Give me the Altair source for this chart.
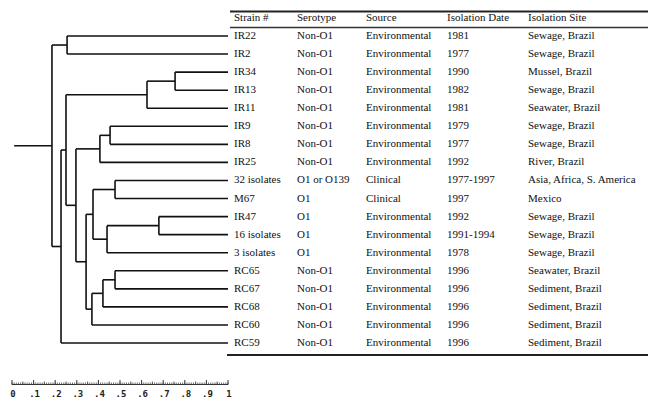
import altair as alt
import pandas as pd

# ---------------- data ----------------
strains = ["IR22", "IR2", "IR34", "IR13", "IR11", "IR9", "IR8", "IR25",
           "32 isolates", "M67", "IR47", "16 isolates", "3 isolates",
           "RC65", "RC67", "RC68", "RC60", "RC59"]
serotypes = ["Non-O1", "Non-O1", "Non-O1", "Non-O1", "Non-O1", "Non-O1", "Non-O1", "Non-O1",
             "O1 or O139", "O1", "O1", "O1", "O1",
             "Non-O1", "Non-O1", "Non-O1", "Non-O1", "Non-O1"]
sources = ["Environmental"] * 8 + ["Clinical", "Clinical"] + ["Environmental"] * 8
dates = ["1981", "1977", "1990", "1982", "1981", "1979", "1977", "1992",
         "1977-1997", "1997", "1992", "1991-1994", "1978",
         "1996", "1996", "1996", "1996", "1996"]
sites = ["Sewage, Brazil", "Sewage, Brazil", "Mussel, Brazil", "Sewage, Brazil",
         "Seawater, Brazil", "Sewage, Brazil", "Sewage, Brazil", "River, Brazil",
         "Asia, Africa, S. America", "Mexico", "Sewage, Brazil", "Sewage, Brazil",
         "Sewage, Brazil", "Seawater, Brazil", "Sediment, Brazil", "Sediment, Brazil",
         "Sediment, Brazil", "Sediment, Brazil"]
headers = ["Strain #", "Serotype", "Source", "Isolation Date", "Isolation Site"]

# dendrogram merges (linkage style): id, left child, right child, similarity
merge_id = ["A", "B1", "B", "C1", "C", "D1", "D2", "D3", "D",
            "R1", "R2", "R", "E", "F", "G", "H", "root"]
merge_left = ["IR22", "IR34", "B1", "IR9", "C1", "32 isolates", "IR47", "D2", "D1",
              "RC65", "R1", "R2", "D", "C", "B", "G", "A"]
merge_right = ["IR2", "IR13", "IR11", "IR8", "IR25", "M67", "16 isolates", "3 isolates", "D3",
               "RC67", "RC68", "RC60", "R", "E", "F", "RC59", "H"]
merge_height = [0.255, 0.755, 0.625, 0.454, 0.407, 0.477, 0.680, 0.440, 0.375,
                0.477, 0.421, 0.370, 0.343, 0.296, 0.250, 0.227, 0.185]
leaf_height = 1.0
root_origin = 0.01

ruler_values = [0, .1, .2, .3, .4, .5, .6, .7, .8, .9, 1]
ruler_labels = ["0", ".1", ".2", ".3", ".4", ".5", ".6", ".7", ".8", ".9", "1"]

# ---------------- dendrogram layout ----------------
pos_y = {s: i for i, s in enumerate(strains)}
pos_x = {s: leaf_height for s in strains}
segs = []
for nid, a, b, h in zip(merge_id, merge_left, merge_right, merge_height):
    ya, yb = pos_y[a], pos_y[b]
    segs.append(dict(x=h, x2=h, y=ya, y2=yb))
    segs.append(dict(x=h, x2=pos_x[a], y=ya, y2=ya))
    segs.append(dict(x=h, x2=pos_x[b], y=yb, y2=yb))
    pos_y[nid] = (ya + yb) / 2
    pos_x[nid] = h
segs.append(dict(x=root_origin, x2=pos_x["root"], y=pos_y["root"], y2=pos_y["root"]))
seg_df = pd.DataFrame(segs)

table_df = pd.DataFrame(dict(row=list(range(len(strains))), strain=strains,
                             serotype=serotypes, source=sources, date=dates, site=sites))
header_df = pd.DataFrame(dict(row=[-1] * 5, text=headers, col=list(range(5))))

W, H = 641, 395
xs = alt.Scale(domain=[-0.018519, 2.949074], zero=False, nice=False)
ys = alt.Scale(domain=[-1.5504, 20.321], zero=False, nice=False, reverse=True)
col_px = [226, 289, 358, 439, 520]

ink = "#111111"
dendro = alt.Chart(seg_df).mark_rule(strokeWidth=1.6, color=ink).encode(
    x=alt.X("x:Q", scale=xs, axis=None), x2="x2:Q",
    y=alt.Y("y:Q", scale=ys, axis=None), y2="y2:Q")

layers = [dendro]
fields = ["strain", "serotype", "source", "date", "site"]
for f, px in zip(fields, col_px):
    layers.append(alt.Chart(table_df).mark_text(
        align="left", baseline="middle", font="Liberation Serif", fontSize=11, color=ink
    ).encode(x=alt.value(px), y=alt.Y("row:Q", scale=ys, axis=None), text=f"{f}:N"))
for i, px in enumerate(col_px):
    layers.append(alt.Chart(header_df[header_df.col == i]).mark_text(
        align="left", baseline="middle", font="Liberation Serif", fontSize=11, color=ink
    ).encode(x=alt.value(px), y=alt.Y("row:Q", scale=ys, axis=None), text="text:N"))

# table rules
rule_df = pd.DataFrame(dict(k=[0]))
layers.append(alt.Chart(rule_df).mark_rule(strokeWidth=2, color="#222").encode(
    x=alt.value(222), x2=alt.value(640), y=alt.value(3.5)))
layers.append(alt.Chart(rule_df).mark_rule(strokeWidth=1.3, color="#333").encode(
    x=alt.value(222), x2=alt.value(640), y=alt.value(19.5)))
layers.append(alt.Chart(rule_df).mark_rule(strokeWidth=2, color="#222").encode(
    x=alt.value(219), x2=alt.value(640), y=alt.value(347)))

# ruler
minor = pd.DataFrame(dict(v=[i / 100 for i in range(101)]))
mid = pd.DataFrame(dict(v=[i / 100 for i in range(5, 100, 10)]))
major = pd.DataFrame(dict(v=ruler_values, lab=ruler_labels))
base = pd.DataFrame(dict(a=[0], b=[1]))
layers.append(alt.Chart(base).mark_rule(strokeWidth=1, color="#333").encode(
    x=alt.X("a:Q", scale=xs, axis=None), x2="b:Q", y=alt.value(376.5)))
layers.append(alt.Chart(minor).mark_rule(strokeWidth=0.8, color="#444").encode(
    x=alt.X("v:Q", scale=xs, axis=None), y=alt.value(376.5), y2=alt.value(374.5)))
layers.append(alt.Chart(mid).mark_rule(strokeWidth=0.8, color="#444").encode(
    x=alt.X("v:Q", scale=xs, axis=None), y=alt.value(376.5), y2=alt.value(373.5)))
layers.append(alt.Chart(major).mark_rule(strokeWidth=1, color="#333").encode(
    x=alt.X("v:Q", scale=xs, axis=None), y=alt.value(376.5), y2=alt.value(372)))
layers.append(alt.Chart(major).mark_text(
    align="center", baseline="middle", font="DejaVu Sans Mono", fontSize=9,
    fontWeight="bold", color="#222", dx=1
).encode(x=alt.X("v:Q", scale=xs, axis=None), y=alt.value(385.5), text="lab:N"))

chart = alt.layer(*layers).properties(
    width=W, height=H, autosize=alt.AutoSizeParams(type="none"), padding=0,
    background="white"
).configure_view(stroke=None)

chart.save("out.html", embed_options={"renderer": "svg", "actions": False})
